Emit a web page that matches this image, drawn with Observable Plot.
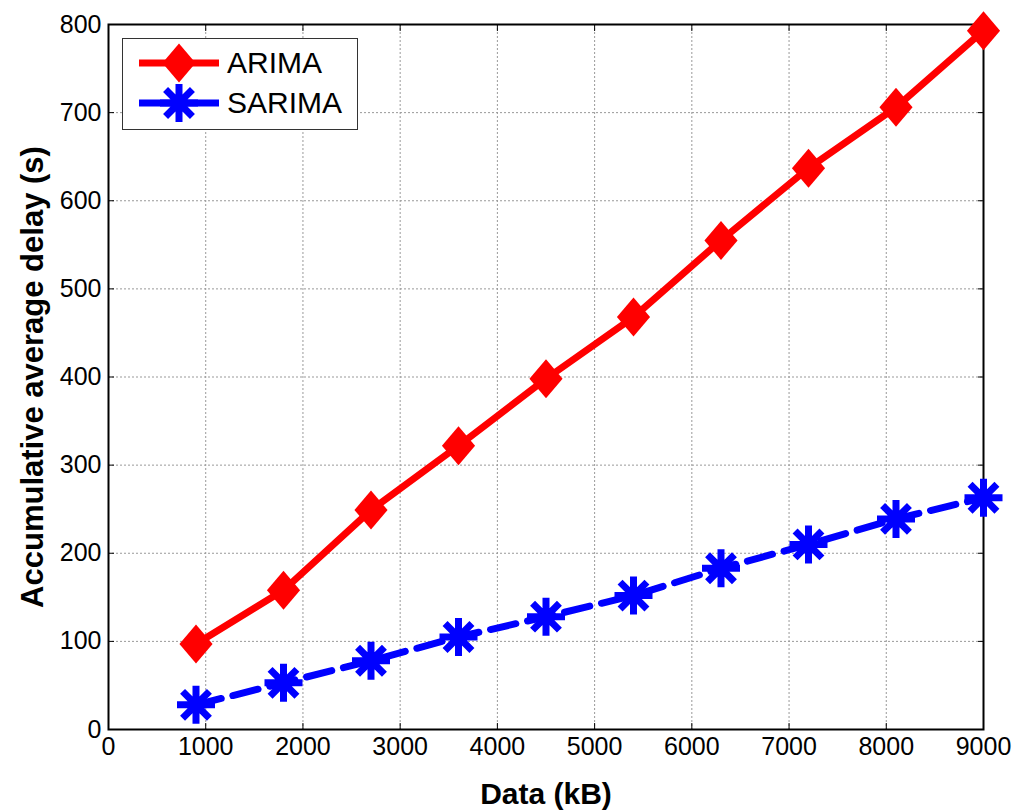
<!DOCTYPE html>
<html>
<head>
<meta charset="utf-8">
<script src="https://cdn.jsdelivr.net/npm/d3@7"></script>
<script src="https://cdn.jsdelivr.net/npm/@observablehq/plot@0.6"></script>
<style>
  html, body { margin: 0; padding: 0; background: #fff; }
  #wrap { position: relative; width: 1014px; height: 810px; font-family: "Liberation Sans", Arial, sans-serif; }
  #legend { position: absolute; left: 122px; top: 38px; width: 236px; height: 92px; border: 1.5px solid #333; background: #fff; box-sizing: border-box; }
</style>
</head>
<body>
<div id="wrap"></div>
<script>
const dataKB = [900, 1800, 2700, 3600, 4500, 5400, 6300, 7200, 8100, 9000];
const arima  = [97, 158, 249, 322, 398, 468, 555, 637, 706, 793];
const sarima = [28, 53, 78, 105, 128, 152, 183, 210, 239, 263];
const xTicks = [0, 1000, 2000, 3000, 4000, 5000, 6000, 7000, 8000, 9000];
const yTicks = [0, 100, 200, 300, 400, 500, 600, 700, 800];
const seriesNames = ["ARIMA", "SARIMA"];

const rows = [
  ...dataKB.map((x, i) => ({x, y: arima[i], s: seriesNames[0]})),
  ...dataKB.map((x, i) => ({x, y: sarima[i], s: seriesNames[1]}))
];

// MATLAB-like markers
const diamond = {
  draw(ctx, size) {
    const r = Math.sqrt(size / Math.PI);
    const w = r * 0.85, h = r;
    ctx.moveTo(0, -h); ctx.lineTo(w, 0); ctx.lineTo(0, h); ctx.lineTo(-w, 0); ctx.closePath();
  }
};
const star8 = {
  draw(ctx, size) {
    const r = Math.sqrt(size / Math.PI);
    for (let k = 0; k < 4; k++) {
      const a = k * Math.PI / 4;
      ctx.moveTo(-r * Math.cos(a), -r * Math.sin(a));
      ctx.lineTo(r * Math.cos(a), r * Math.sin(a));
    }
  }
};

const chart = Plot.plot({
  width: 1014,
  height: 810,
  marginLeft: 108,
  marginRight: 31,
  marginTop: 24,
  marginBottom: 81,
  style: { fontFamily: "Liberation Sans, Arial, sans-serif", fontSize: "25px", color: "#000", background: "#fff" },
  x: { domain: [0, 9000] },
  y: { domain: [0, 800] },
  marks: [
    Plot.gridX(xTicks, { stroke: "#999", strokeOpacity: 1, strokeWidth: 1, strokeDasharray: "2,2" }),
    Plot.gridY(yTicks, { stroke: "#999", strokeOpacity: 1, strokeWidth: 1, strokeDasharray: "2,2" }),
    Plot.axisX(xTicks, { tickSize: -6, tickPadding: 14, tickFormat: d => String(d), label: null, fontSize: 25 }),
    Plot.axisX(xTicks, { anchor: "top", tickSize: -6, tickFormat: () => "", label: null }),
    Plot.axisY(yTicks, { tickSize: -6, tickPadding: 13, tickFormat: d => String(d), label: null, fontSize: 25 }),
    Plot.axisY(yTicks, { anchor: "right", tickSize: -6, tickFormat: () => "", label: null }),
    Plot.frame({ stroke: "#000", strokeWidth: 2 }),
    Plot.line(rows.filter(d => d.s === "ARIMA"), { x: "x", y: "y", stroke: "#ff0000", strokeWidth: 7 }),
    Plot.line(rows.filter(d => d.s === "SARIMA"), { x: "x", y: "y", stroke: "#0000ff", strokeWidth: 7, strokeDasharray: "26,12" }),
    Plot.dot(rows.filter(d => d.s === "ARIMA"), { x: "x", y: "y", symbol: diamond, r: 19.5, fill: "#ff0000", stroke: "none" }),
    Plot.dot(rows.filter(d => d.s === "SARIMA"), { x: "x", y: "y", symbol: star8, r: 19, fill: "none", stroke: "#0000ff", strokeWidth: 7 }),
    Plot.text(["Data (kB)"], { frameAnchor: "bottom", dy: 74, text: d => d, fontSize: 30, fontWeight: "bold" }),
    Plot.text(["Accumulative average delay (s)"], { frameAnchor: "left", dx: -75, rotate: -90, textAnchor: "middle", text: d => d, fontSize: 31, fontWeight: "bold" })
  ]
});
document.getElementById("wrap").appendChild(chart);

// Legend
const legend = document.createElement("div");
legend.id = "legend";
const markers = [
  { name: seriesNames[0], color: "#ff0000", sym: diamond, fill: true, r: 19.5 },
  { name: seriesNames[1], color: "#0000ff", sym: star8, fill: false, r: 19 }
];
markers.forEach((m, i) => {
  const row = document.createElement("div");
  row.style.cssText = `position:absolute;left:0;top:${i === 0 ? 2 : 42}px;height:44px;width:100%;`;
  const svg = d3.create("svg").attr("width", 100).attr("height", 44).style("position", "absolute").style("left", "14px").style("top", "0px");
  svg.append("line").attr("x1", 2).attr("x2", 82).attr("y1", 22).attr("y2", 22).attr("stroke", m.color).attr("stroke-width", 7);
  const path = d3.symbol(m.sym, Math.PI * m.r * m.r)();
  svg.append("path").attr("transform", "translate(42,22)").attr("d", path)
    .attr("fill", m.fill ? m.color : "none").attr("stroke", m.fill ? "none" : m.color).attr("stroke-width", 7);
  row.appendChild(svg.node());
  const label = document.createElement("span");
  label.textContent = m.name;
  label.style.cssText = "position:absolute;left:104px;top:4px;font-size:30px;line-height:36px;color:#000;";
  row.appendChild(label);
  legend.appendChild(row);
});
document.getElementById("wrap").appendChild(legend);
</script>
</body>
</html>
